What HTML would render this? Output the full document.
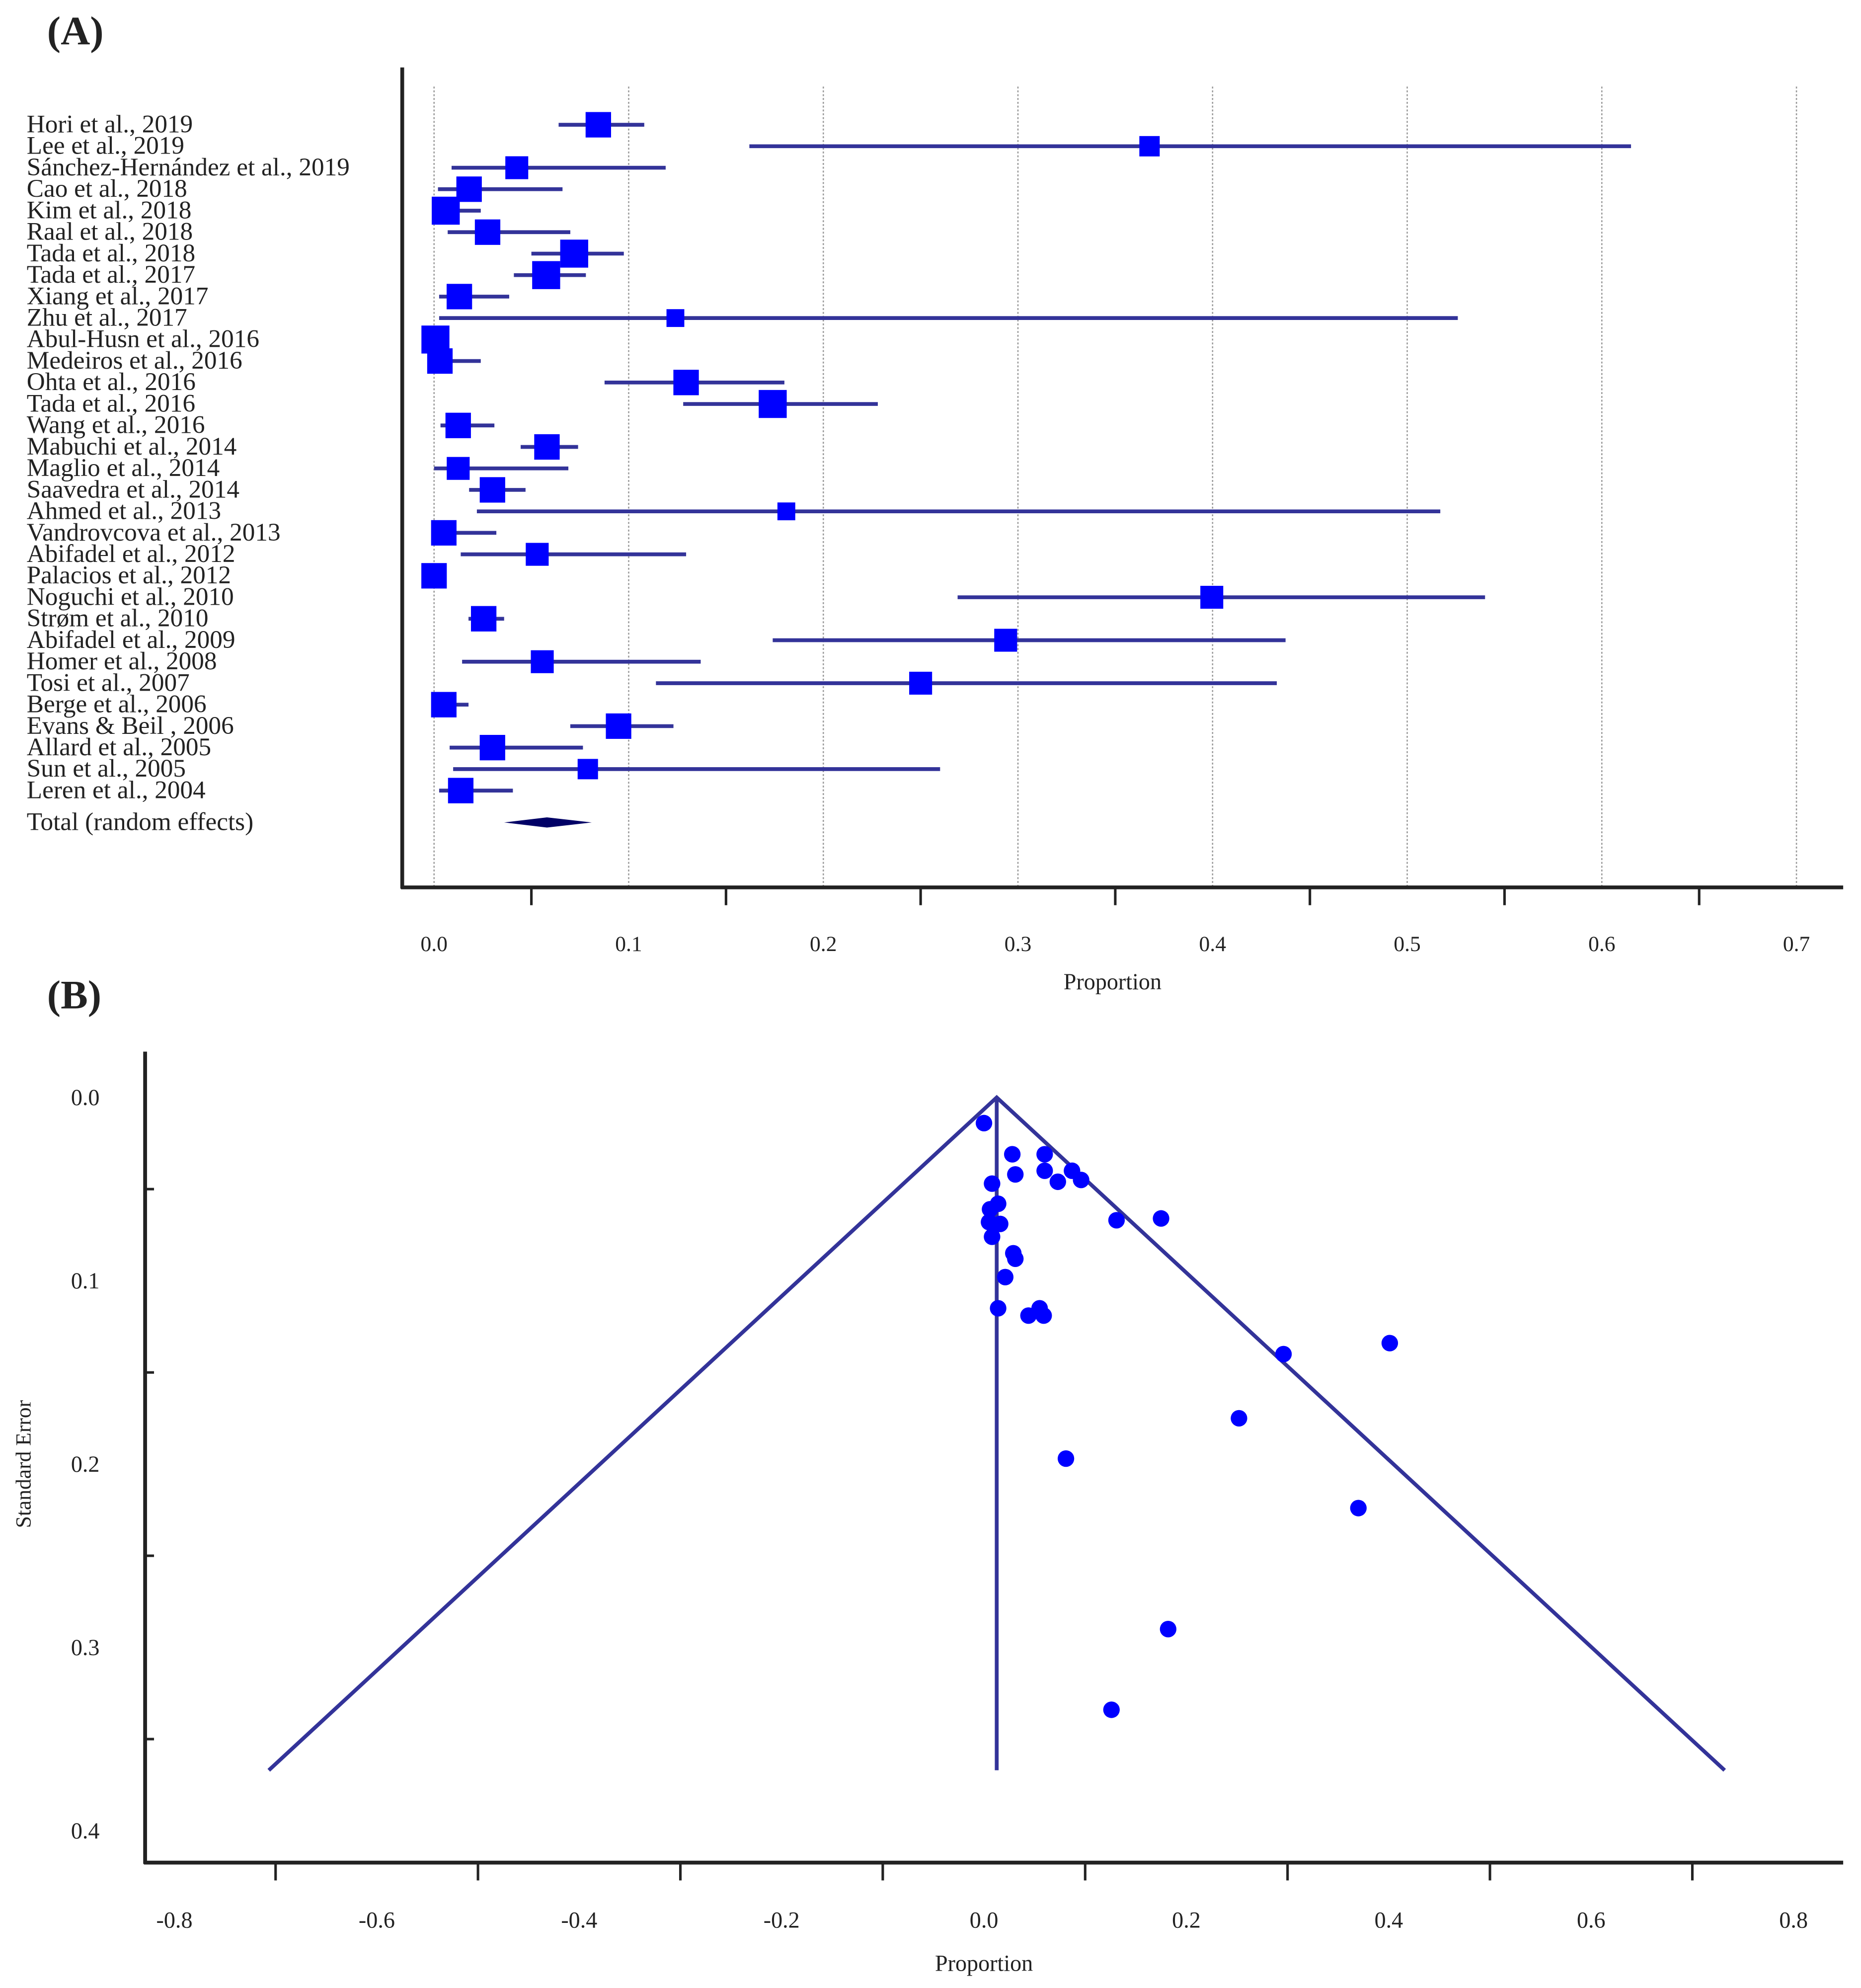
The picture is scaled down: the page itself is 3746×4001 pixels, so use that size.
<!DOCTYPE html>
<html><head><meta charset="utf-8"><style>
html,body{margin:0;padding:0;background:#fff}
svg{display:block}
text{font-family:"Liberation Serif",serif;fill:#222}
</style></head><body>
<svg id="chart" width="3746" height="4001" viewBox="0 0 1462 1561.5" preserveAspectRatio="none" xmlns="http://www.w3.org/2000/svg">
<text x="37" y="35" font-size="32" font-weight="bold">(A)</text>
<text x="37" y="792" font-size="32" font-weight="bold">(B)</text>
<g id="forest"></g>
<g id="funnel"></g>
</svg>
<script>
const studies = ["Hori et al., 2019","Lee et al., 2019","Sánchez-Hernández et al., 2019","Cao et al., 2018","Kim et al., 2018","Raal et al., 2018","Tada et al., 2018","Tada et al., 2017","Xiang et al., 2017","Zhu et al., 2017","Abul-Husn et al., 2016","Medeiros et al., 2016","Ohta et al., 2016","Tada et al., 2016","Wang et al., 2016","Mabuchi et al., 2014","Maglio et al., 2014","Saavedra et al., 2014","Ahmed et al., 2013","Vandrovcova et al., 2013","Abifadel et al., 2012","Palacios et al., 2012","Noguchi et al., 2010","Strøm et al., 2010","Abifadel et al., 2009","Homer et al., 2008","Tosi et al., 2007","Berge et al., 2006","Evans & Beil , 2006","Allard et al., 2005","Sun et al., 2005","Leren et al., 2004"];
const est = [0.0844,0.3676,0.0425,0.018,0.006,0.0275,0.072,0.0576,0.013,0.124,0.0007,0.003,0.1295,0.174,0.0124,0.058,0.0124,0.030,0.181,0.005,0.053,0.0,0.3996,0.0255,0.2937,0.0556,0.250,0.005,0.0948,0.030,0.079,0.0137];
const lower = [0.064,0.162,0.009,0.002,0,0.007,0.050,0.041,0.0026,0.0026,0,0,0.0876,0.128,0.0033,0.0445,0,0.018,0.022,0,0.0137,0,0.269,0.0177,0.174,0.0144,0.114,0,0.070,0.008,0.0098,0.0026];
const upper = [0.108,0.615,0.119,0.066,0.024,0.070,0.0975,0.078,0.0386,0.526,0.007,0.024,0.180,0.228,0.031,0.074,0.069,0.047,0.517,0.032,0.1295,0.0,0.540,0.036,0.4375,0.137,0.433,0.0177,0.123,0.0765,0.260,0.0405];
const weight = [20,16,18,20,22,20,22,22,20,14,22,20,20,22,20,20,18,20,14,20,18,20,18,20,18,18,18,20,20,20,16,20];
const totalEst = [0.058, 0.036, 0.081];
const forestTicks = ["0.0","0.1","0.2","0.3","0.4","0.5","0.6","0.7"];

const funnelX = [0.000,0.028,0.060,0.031,0.060,0.087,0.096,0.073,0.008,0.014,0.006,0.005,0.016,0.008,0.131,0.175,0.029,0.031,0.021,0.014,0.055,0.059,0.044,0.296,0.401,0.252,0.081,0.370,0.182,0.126];
const funnelSE = [0.014,0.031,0.031,0.042,0.040,0.040,0.045,0.046,0.047,0.058,0.061,0.068,0.069,0.076,0.067,0.066,0.085,0.088,0.098,0.115,0.115,0.119,0.119,0.140,0.134,0.175,0.197,0.224,0.290,0.334];
const funnelCenter = 0.0126;
const funnelMaxSE = 0.367;
const funnelXTicks = ["-0.8","-0.6","-0.4","-0.2","0.0","0.2","0.4","0.6","0.8"];
const funnelYTicks = ["0.0","0.1","0.2","0.3","0.4"];

const NS="http://www.w3.org/2000/svg";
function mk(tag, attrs, parent, txt){const e=document.createElementNS(NS,tag);for(const k in attrs)e.setAttribute(k,attrs[k]);if(txt!==undefined)e.textContent=txt;parent.appendChild(e);return e;}

// Forest
const F=document.getElementById('forest');
const fx=v=>341+v*1529;
const fy=i=>98+i*16.87;
forestTicks.forEach((t,i)=>{
  const v=parseFloat(t);
  const g=mk('line',{x1:fx(v),x2:fx(v),y1:68,y2:697,stroke:'#999','stroke-width':1,'stroke-dasharray':'1.5,1.5'},F);
  
  
  const l=mk('text',{x:fx(v),y:747,'font-size':17,'text-anchor':'middle'},F,t);
  
  
  if(i<forestTicks.length-1){
    const tk=mk('line',{x1:fx(v+0.05),x2:fx(v+0.05),y1:697,y2:711,stroke:'#222','stroke-width':2},F);
    
    
  }
});
const fa1=mk('line',{x1:316,x2:316,y1:53,y2:698,stroke:'#222','stroke-width':3},F);


const fa2=mk('line',{x1:315,x2:1448,y1:697,y2:697,stroke:'#222','stroke-width':3},F);


const ft=mk('text',{x:874,y:777,'font-size':18,'text-anchor':'middle'},F,'Proportion');


studies.forEach((s,i)=>{
  const y=fy(i);
  const lb=mk('text',{x:21,y:y+6,'font-size':20},F,s);
  
  
  const ci=mk('line',{x1:fx(lower[i]),x2:fx(upper[i]),y1:y,y2:y,stroke:'#333399','stroke-width':3},F);
  
  
  const w=weight[i];
  const sq=mk('rect',{x:fx(est[i])-w/2,y:y-w/2,width:w,height:w,fill:'#0000ff'},F);
  
  
});
const ty=646;
const tl=mk('text',{x:21,y:ty+6,'font-size':20},F,'Total (random effects)');


const dm=mk('polygon',{points:`${fx(totalEst[1])},${ty} ${fx(totalEst[0])},${ty-4} ${fx(totalEst[2])},${ty} ${fx(totalEst[0])},${ty+4}`,fill:'#000066'},F);



// Funnel
const G=document.getElementById('funnel');
const gx=v=>773+v*795;
const gy=v=>862+v*1440;
const ga1=mk('line',{x1:114,x2:114,y1:826,y2:1464,stroke:'#222','stroke-width':3},G);


const ga2=mk('line',{x1:113,x2:1448,y1:1463,y2:1463,stroke:'#222','stroke-width':3},G);


funnelXTicks.forEach((t,i)=>{
  const v=parseFloat(t);
  const l=mk('text',{x:gx(v),y:1514,'font-size':18,'text-anchor':'middle'},G,t);
  
  
  if(i<funnelXTicks.length-1){
    const tk=mk('line',{x1:gx(v+0.1),x2:gx(v+0.1),y1:1463,y2:1477,stroke:'#222','stroke-width':2},G);
    
    
  }
});
funnelYTicks.forEach((t,i)=>{
  const v=parseFloat(t);
  const l=mk('text',{x:67,y:gy(v)+6,'font-size':18,'text-anchor':'middle'},G,t);
  
  
  if(i<funnelYTicks.length-1){
    const tk=mk('line',{x1:114,x2:121,y1:gy(v+0.05),y2:gy(v+0.05),stroke:'#222','stroke-width':2},G);
    
    
  }
});
const gxt=mk('text',{x:773,y:1548,'font-size':18,'text-anchor':'middle'},G,'Proportion');


const gyt=mk('text',{x:24,y:1150,'font-size':17,'text-anchor':'middle',transform:'rotate(-90 24 1150)'},G,'Standard Error');


const half=1.96*funnelMaxSE;
const fn=mk('polyline',{points:`${gx(funnelCenter-half)},${gy(funnelMaxSE)} ${gx(funnelCenter)},${gy(0)} ${gx(funnelCenter+half)},${gy(funnelMaxSE)}`,fill:'none',stroke:'#333399','stroke-width':3},G);


const cl=mk('line',{x1:gx(funnelCenter),x2:gx(funnelCenter),y1:gy(0),y2:gy(funnelMaxSE),stroke:'#333399','stroke-width':3},G);


funnelX.forEach((v,i)=>{
  const c=mk('ellipse',{cx:gx(v),cy:gy(funnelSE[i]),rx:6.5,ry:6.5,fill:'#0000ff'},G);
  
  
});
</script>
</body></html>
